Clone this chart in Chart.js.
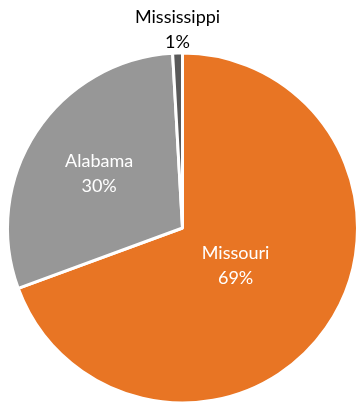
<!DOCTYPE html>
<html>
<head>
<meta charset="utf-8">
<title>State share pie</title>
<script src="https://cdn.jsdelivr.net/npm/chart.js@4"></script>
<style>
    html, body { margin: 0; padding: 0; background: #ffffff; }
    #wrap { width: 359px; height: 405px; position: relative; }
</style>
</head>
<body>
<div id="wrap"><canvas id="pieChart"></canvas></div>
<script>
// Chart data
const states = ['Missouri', 'Alabama', 'Mississippi'];
const shares = [69.4, 29.7, 0.9];
const sliceColors = ['#E87524', '#979797', '#595959'];

// label placement: fraction of radius (negative = outside the pie), text colour
const labelRadius = [0.37, 0.57, -1];
const labelColors = ['#ffffff', '#ffffff', '#000000'];

const labelFont = '18px Lato, "Open Sans", sans-serif';

// Draws "Name\nNN%" labels next to each arc
const sliceLabels = {
    id: 'sliceLabels',
    afterDatasetsDraw(chart) {
        const ctx = chart.ctx;
        const meta = chart.getDatasetMeta(0);
        const total = shares.reduce((a, b) => a + b, 0);
        ctx.save();
        ctx.font = labelFont;
        ctx.textAlign = 'center';
        ctx.textBaseline = 'middle';
        meta.data.forEach(function(arc, i) {
            const pct = Math.round(shares[i] / total * 100) + '%';
            const mid = (arc.startAngle + arc.endAngle) / 2;
            let x, y;
            if (labelRadius[i] > 0) {
                const r = arc.outerRadius * labelRadius[i];
                x = arc.x + Math.cos(mid) * r;
                y = arc.y + Math.sin(mid) * r;
            } else {
                // outside label sits above the top of the pie
                x = arc.x + Math.cos(mid) * arc.outerRadius;
                y = arc.y - arc.outerRadius - 24;
            }
            ctx.fillStyle = labelColors[i];
            ctx.fillText(states[i], x, y - 12);
            ctx.fillText(pct, x, y + 13);
        });
        ctx.restore();
    }
};

document.addEventListener('DOMContentLoaded', function() {
    const ctx = document.getElementById('pieChart');

    new Chart(ctx, {
        type: 'pie',
        data: {
            labels: states,
            datasets: [{
                data: shares,
                backgroundColor: sliceColors,
                borderColor: '#ffffff',
                borderWidth: 3
            }]
        },
        options: {
            responsive: true,
            maintainAspectRatio: false,
            animation: false,
            layout: {
                padding: { top: 51, left: 6, right: 0, bottom: 0 }
            },
            plugins: {
                legend: { display: false },
                tooltip: { enabled: false }
            }
        },
        plugins: [sliceLabels]
    });
});
</script>
</body>
</html>
